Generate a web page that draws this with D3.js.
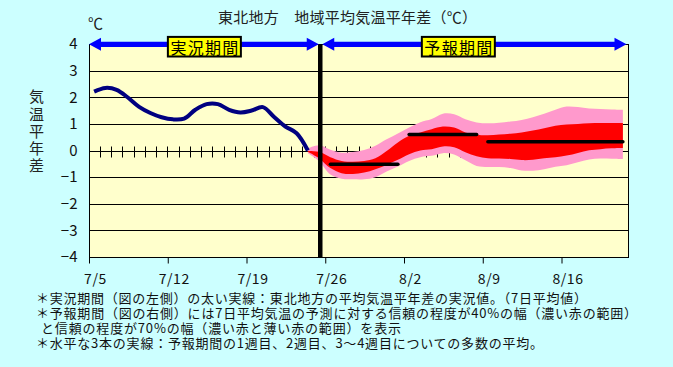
<!DOCTYPE html>
<html><head><meta charset="utf-8">
<script src="https://cdn.jsdelivr.net/npm/d3@7"></script>
<style>html,body{margin:0;padding:0;background:#CCFFFF;} svg{display:block}</style>
</head><body>
<svg id="c" width="673" height="367"></svg>
<script>
// ---------- data ----------
const titleText = "東北地方　地域平均気温平年差（℃）";
const unitText = "℃";
const yAxisTitle = ["気","温","平","年","差"];
const yTicks = [4,3,2,1,0,-1,-2,-3,-4];
const yGrid = [3,2,1,-1,-2,-3];
const xTickDays = [0,7,14,21,28,35,42];
const xTickLabels = ["7/5","7/12","7/19","7/26","8/2","8/9","8/16"];
const totalDays = 48;
// observed 7-day mean anomaly, days 0..19 (7/5 .. 7/24)
const obsValues = [2.21,2.35,2.28,1.99,1.64,1.41,1.25,1.17,1.20,1.53,1.74,1.74,1.53,1.43,1.50,1.63,1.26,0.90,0.65,0.0];
// forecast bands, days 19..47
const fcFirstDay = 19;
const pinkUpper = [0.08,0.20,0.03,-0.08,-0.06,0.02,0.18,0.42,0.64,0.86,1.06,1.18,1.38,1.36,1.17,1.05,1.02,1.04,1.09,1.15,1.25,1.38,1.53,1.65,1.63,1.58,1.56,1.54,1.53];
const redUpper  = [-0.02,-0.05,-0.25,-0.39,-0.42,-0.39,-0.29,-0.02,0.30,0.55,0.68,0.80,0.90,0.86,0.68,0.59,0.57,0.60,0.63,0.68,0.75,0.84,0.93,0.98,1.00,1.02,1.03,1.03,1.03];
const redLower  = [-0.05,-0.30,-0.66,-0.85,-0.88,-0.83,-0.70,-0.54,-0.35,-0.14,0.00,0.05,0.15,0.12,-0.07,-0.22,-0.29,-0.30,-0.32,-0.36,-0.35,-0.29,-0.25,-0.19,-0.09,0.01,0.05,0.08,0.09];
const pinkLower = [-0.10,-0.40,-0.90,-1.06,-1.08,-1.08,-1.00,-0.79,-0.60,-0.39,-0.25,-0.20,-0.10,-0.15,-0.37,-0.58,-0.62,-0.62,-0.66,-0.75,-0.76,-0.70,-0.61,-0.55,-0.44,-0.34,-0.30,-0.31,-0.32];
// weekly ensemble means
const weekStart = [21,28,35];
const weekEnd   = [27,34,47];
const weekMean  = [-0.52,0.60,0.33];
const dividerDay = 20.6;
const periodLabels = ["実況期間","予報期間"];
const notes = [
  "＊実況期間（図の左側）の太い実線：東北地方の平均気温平年差の実況値。（7日平均値）",
  "＊予報期間（図の右側）には7日平均気温の予測に対する信頼の程度が40%の幅（濃い赤の範囲）",
  "と信頼の程度が70%の幅（濃い赤と薄い赤の範囲）を表示",
  "＊水平な3本の実線：予報期間の1週目、2週目、3～4週目についての多数の平均。"
];

// ---------- layout ----------
const FONT = "'Noto Sans CJK JP','Noto Sans',sans-serif";
const svg = d3.select("#c");
svg.append("rect").attr("width",673).attr("height",367).attr("fill","#CCFFFF");
const x = d3.scaleLinear().domain([0,totalDays]).range([88.5,628.5]);
const y = d3.scaleLinear().domain([-4,4]).range([257,44]);
const crisp = v => Math.round(v)+0.5;
const X0 = crisp(x(0)) , X1 = crisp(x(totalDays)-0.5);
const Y0 = crisp(y(4)), Y1 = crisp(y(-4));

// plot background
svg.append("rect").attr("x",X0).attr("y",Y0).attr("width",X1-X0).attr("height",Y1-Y0).attr("fill","#FFFFCC");

// grid
svg.append("g").selectAll("line").data(yGrid).join("line")
  .attr("x1",X0).attr("x2",X1).attr("y1",d=>crisp(y(d))).attr("y2",d=>crisp(y(d)))
  .attr("stroke","#000").attr("stroke-width",1);
// zero line with daily ticks
const yz = crisp(y(0));
svg.append("line").attr("x1",X0).attr("x2",X1).attr("y1",yz).attr("y2",yz).attr("stroke","#000");
svg.append("g").selectAll("line").data(d3.range(1,totalDays)).join("line")
  .attr("x1",d=>crisp(x(d))).attr("x2",d=>crisp(x(d))).attr("y1",yz-5).attr("y2",yz+6)
  .attr("stroke","#000");

// forecast bands
const fcDays = pinkUpper.map((_,i)=>fcFirstDay+i);
const band = (lo,hi)=>d3.area().curve(d3.curveCatmullRom)
  .x((d,i)=>x(fcDays[i]+0.5)).y0((d,i)=>y(lo[i])).y1((d,i)=>y(hi[i]));
svg.append("path").datum(fcDays).attr("d",band(pinkLower,pinkUpper)).attr("fill","#FF99CC");
svg.append("path").datum(fcDays).attr("d",band(redLower,redUpper)).attr("fill","#FF0000");

// weekly means
svg.append("g").selectAll("line").data(weekMean).join("line")
  .attr("x1",(d,i)=>x(weekStart[i]+0.5)).attr("x2",(d,i)=>x(weekEnd[i]+0.5))
  .attr("y1",d=>y(d)).attr("y2",d=>y(d))
  .attr("stroke","#000").attr("stroke-width",3.5).attr("stroke-linecap","round");

// observed line
svg.append("path").datum(obsValues)
  .attr("d",d3.line().curve(d3.curveCatmullRom).x((d,i)=>x(i+0.5)).y(d=>y(d)))
  .attr("fill","none").attr("stroke","#000080").attr("stroke-width",4).attr("stroke-linejoin","round");

// divider
const xd = x(dividerDay);
svg.append("line").attr("x1",xd).attr("x2",xd).attr("y1",Y0).attr("y2",Y1)
  .attr("stroke","#000").attr("stroke-width",4.5);

// border
svg.append("rect").attr("x",X0).attr("y",Y0).attr("width",X1-X0).attr("height",Y1-Y0)
  .attr("fill","none").attr("stroke","#000");

// x axis
const xAxis = d3.axisBottom(x).tickValues(xTickDays).tickFormat((d,i)=>xTickLabels[i])
  .tickSize(6).tickSizeOuter(0);
const gx = svg.append("g").attr("transform",`translate(0.5,${Y1})`).call(xAxis);
gx.select(".domain").remove();
gx.selectAll(".tick line").attr("stroke","#000");
gx.selectAll(".tick text").attr("y",17).attr("dx",6).attr("font-family",FONT)
  .attr("font-size",14).attr("fill","#111").attr("letter-spacing",0.6);

// y axis labels
const yAxis = d3.axisLeft(y).tickValues(yTicks).tickSize(0).tickPadding(12);
const gy = svg.append("g").attr("transform",`translate(${X0},0)`).call(yAxis);
gy.select(".domain").remove();
gy.selectAll(".tick text").attr("font-family",FONT).attr("font-size",15).attr("fill","#111");

// arrows
function arrow(x1,x2,yc){
  const h=6.5, L=12, t=2.6;
  const p = `M${x1},${yc} L${x1+L},${yc-h} L${x1+L},${yc-t} L${x2-L},${yc-t} L${x2-L},${yc-h} L${x2},${yc} L${x2-L},${yc+h} L${x2-L},${yc+t} L${x1+L},${yc+t} L${x1+L},${yc+h} Z`;
  svg.append("path").attr("d",p).attr("fill","#0000FF");
}
arrow(x(0)+0.5, xd-1.5, y(4)+0.3);
arrow(xd+2, x(totalDays)-2, y(4)+0.3);

// period label boxes
const labelCx = [(x(0)+xd)/2, xd+0.448*(x(totalDays)-xd)];
periodLabels.forEach((t,i)=>{
  const cx = labelCx[i], cy = y(4)+2.7;
  svg.append("rect").attr("x",cx-36.5).attr("y",cy-9.8).attr("width",73).attr("height",19.6)
    .attr("fill","#FFFF00").attr("stroke","#000").attr("stroke-width",2);
  svg.append("text").attr("x",cx-34).attr("y",cy).attr("dominant-baseline","central")
    .attr("font-family",FONT).attr("font-size",16).attr("fill","#000")
    .attr("textLength",68).attr("lengthAdjust","spacing").text(t);
});

// titles
svg.append("text").attr("x",218).attr("y",16.5).attr("dominant-baseline","central")
  .attr("font-family",FONT).attr("font-size",15).attr("fill","#222")
  .attr("textLength",259).attr("lengthAdjust","spacing").text(titleText);
svg.append("text").attr("x",95.5).attr("y",22).attr("text-anchor","middle").attr("dominant-baseline","central")
  .attr("font-family",FONT).attr("font-size",15).attr("fill","#222").text(unitText);
svg.append("g").selectAll("text").data(yAxisTitle).join("text")
  .attr("x",36.5).attr("y",(d,i)=>95.9+i*17.2).attr("text-anchor","middle").attr("dominant-baseline","central")
  .attr("font-family",FONT).attr("font-size",15).attr("fill","#222").text(d=>d);

// footnotes
const noteX = [36,36,41,36], noteW = [551,601,360,507];
svg.append("g").selectAll("text").data(notes).join("text")
  .attr("x",(d,i)=>noteX[i]).attr("y",(d,i)=>297+i*15).attr("dominant-baseline","central")
  .attr("font-family",FONT).attr("font-size",13).attr("fill","#111")
  .attr("textLength",(d,i)=>noteW[i]).attr("lengthAdjust","spacing").text(d=>d);
</script>
</body></html>
